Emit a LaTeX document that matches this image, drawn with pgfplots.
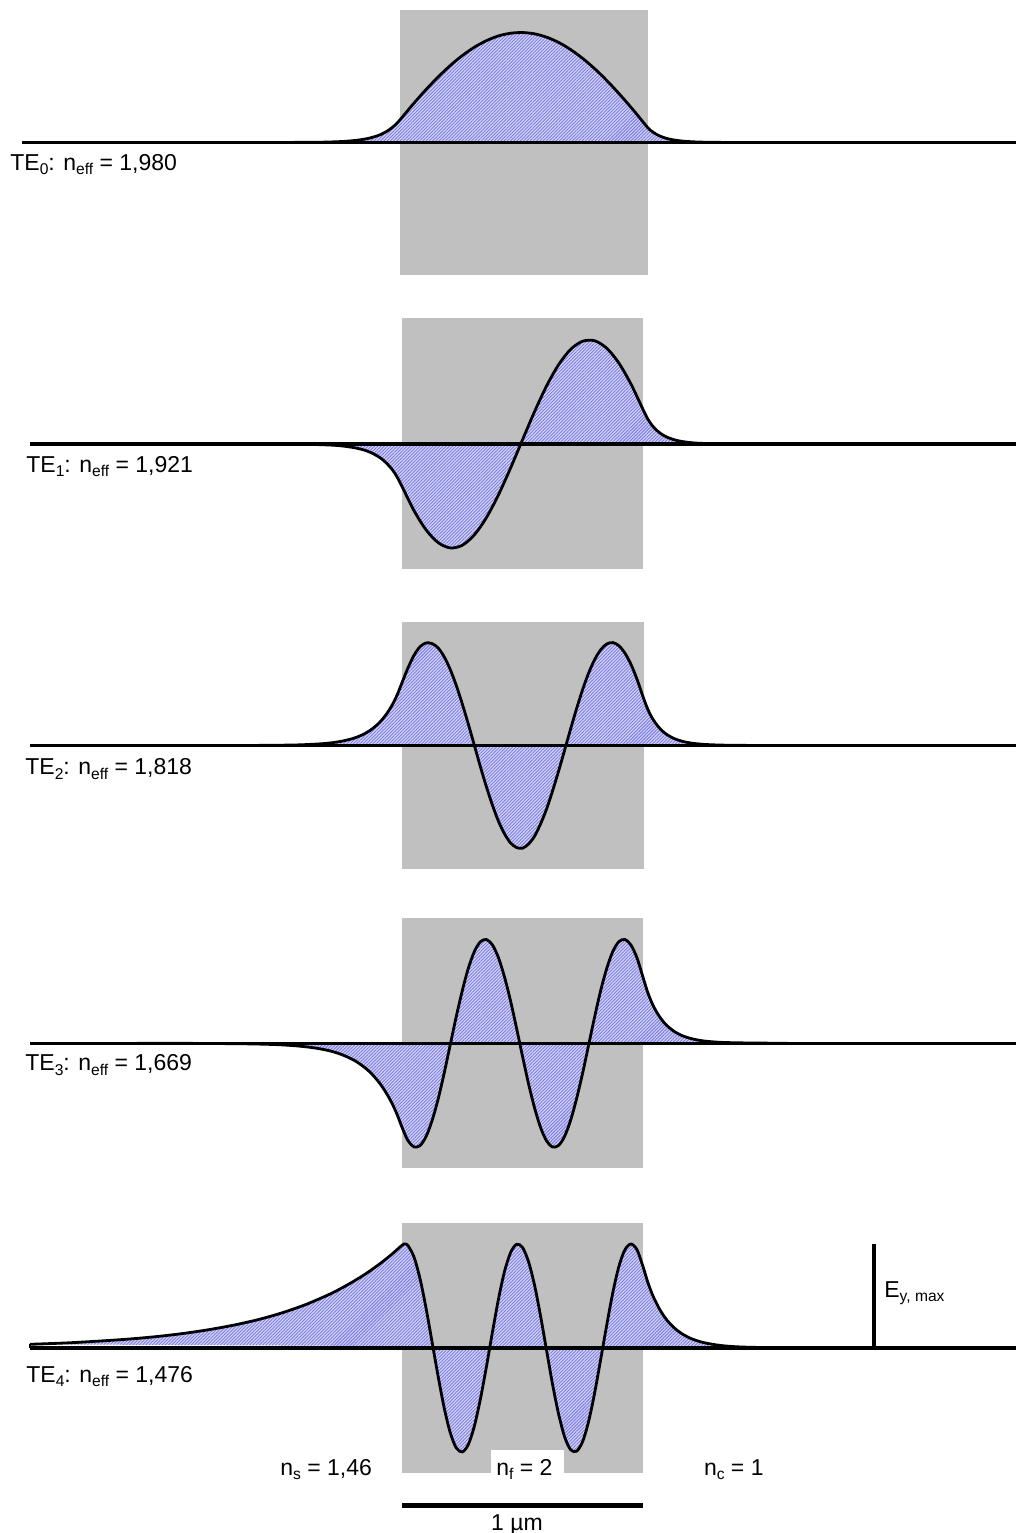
\documentclass[border=0pt]{standalone}
\usepackage{fontspec}
\setmainfont{Liberation Sans}
\usepackage{pgfplots}
\usepackage{pgfplotstable}
\pgfplotsset{compat=1.18}
\usetikzlibrary{patterns.meta}
\definecolor{coregray}{RGB}{192,192,192}
\definecolor{hatchbase}{RGB}{214,214,248}
\definecolor{hatchline}{RGB}{122,122,226}
\newcommand{\sub}[1]{\raisebox{-2.3pt}{\fontsize{7.8}{8}\selectfont #1}}
\newcommand{\lbl}{\fontsize{11.5}{13}\selectfont}

\pgfplotstableread{
x y
250 -142.5
313.2 -142.3
338 -141.7
350.4 -140.9
360.3 -139.8
367.8 -138.5
375.2 -136.5
380.2 -134.7
385.1 -132.3
390.1 -129.1
395 -125.1
400 -119.8
412.4 -105.0
424.8 -90.9
437.2 -77.9
449.6 -66.1
462 -55.8
474.4 -47.2
486.8 -40.5
499.2 -35.7
511.6 -33.1
524 -32.6
536.4 -34.2
548.8 -38.0
561.2 -43.8
573.6 -51.6
586 -61.1
598.4 -72.2
610.8 -84.7
623.2 -98.3
635.6 -112.8
648 -127.9
653 -132.1
657.9 -135.1
662.9 -137.2
667.8 -138.7
672.8 -139.8
682.7 -141.1
697.6 -142.0
722.4 -142.4
796.8 -142.5
}\tA

\pgfplotstableread{
x y
257.4 -444.0
305.6 -444.3
329.7 -445.0
341.8 -445.9
353.8 -447.6
363.4 -449.8
370.7 -452.5
377.9 -456.3
382.7 -459.7
387.5 -464.2
392.4 -469.8
397.2 -477.1
402 -486.4
414.05 -510.7
426.1 -529.9
438.15 -542.6
450.2 -547.9
462.25 -545.3
474.3 -534.9
486.35 -517.7
498.4 -494.9
510.45 -468.3
522.5 -439.8
534.55 -411.6
546.6 -385.9
558.65 -364.6
570.7 -349.3
582.75 -341.2
594.8 -340.8
606.85 -348.3
618.9 -363.1
630.95 -384.0
643 -409.4
647.8 -419.0
652.6 -426.0
657.5 -431.0
662.3 -434.6
667.1 -437.2
674.3 -439.8
681.6 -441.4
691.2 -442.7
705.7 -443.5
739.4 -444.0
}\tB

\pgfplotstableread{
x y
245.4 -745.5
293.6 -745.0
317.7 -744.0
329.7 -743.0
341.8 -741.2
353.8 -738.2
363.4 -734.3
370.7 -730.0
377.9 -724.1
382.7 -718.9
387.5 -712.6
392.4 -704.6
397.2 -694.8
402 -682.7
408.0 -667.9
414.05 -655.2
420.1 -646.6
426.1 -642.9
432.1 -643.6
438.15 -647.9
444.2 -656.8
450.2 -669.4
456.2 -685.2
462.25 -703.8
468.3 -724.0
474.3 -745.1
480.3 -766.4
486.35 -786.6
492.4 -805.0
498.4 -821.1
504.4 -833.6
510.45 -842.8
516.5 -847.5
522.5 -848.2
528.5 -844.1
534.55 -836.2
540.6 -823.8
546.6 -808.9
552.6 -790.8
558.65 -770.9
564.7 -749.8
570.7 -728.6
576.7 -708.2
582.75 -689.2
588.8 -672.6
594.8 -659.3
600.8 -649.6
606.85 -643.9
612.9 -642.6
618.9 -645.7
624.9 -653.1
630.95 -664.3
637.0 -679.2
643 -696.6
647.8 -709.3
652.6 -718.7
657.5 -725.7
662.3 -730.9
667.1 -734.7
674.3 -738.6
681.6 -741.1
691.2 -743.1
705.7 -744.5
727.4 -745.2
763.5 -745.5
}\tC

\pgfplotstableread{
x y
136.9 -1043.3
197.2 -1043.4
245.4 -1043.8
276.7 -1044.6
298.4 -1046.0
315.2 -1048.0
329.7 -1050.8
341.8 -1054.6
353.8 -1060.1
363.4 -1066.5
370.7 -1072.8
377.9 -1080.9
382.7 -1087.4
387.5 -1095.1
392.4 -1104.1
397.2 -1114.7
402 -1127.2
408.0 -1140.7
414.1 -1146.9
420.1 -1145.5
426.1 -1136.4
432.1 -1120.5
438.2 -1098.8
444.2 -1073.0
450.2 -1044.9
456.2 -1016.8
462.3 -990.6
468.3 -968.3
474.3 -951.7
480.3 -941.8
486.4 -939.5
492.4 -944.8
498.4 -957.5
504.4 -976.6
510.5 -1000.7
516.5 -1027.9
522.5 -1056.2
528.5 -1083.6
534.6 -1108.0
540.6 -1127.6
546.6 -1140.9
552.6 -1147.0
558.7 -1145.3
564.7 -1136.1
570.7 -1120.0
576.7 -1098.2
582.8 -1072.3
588.8 -1044.2
594.8 -1016.1
600.8 -990.0
606.9 -967.9
612.9 -951.3
618.9 -941.6
624.9 -939.5
631.0 -945.1
637.0 -957.9
643.0 -977.2
647.8 -992.6
652.6 -1004.4
657.5 -1013.5
662.3 -1020.4
667.1 -1025.7
674.3 -1031.5
681.6 -1035.4
691.2 -1038.6
703.3 -1040.9
720.1 -1042.3
744.2 -1042.9
787.6 -1043.3
}\tD

\pgfplotstableread{
x y
30 -1344.3
64.6 -1343.0
88.7 -1341.7
112.8 -1340.2
136.9 -1338.4
161 -1336.1
185.1 -1333.2
209.2 -1329.6
233.3 -1325.2
257.4 -1319.8
281.5 -1313.0
305.6 -1304.6
329.7 -1294.2
341.75 -1288.0
353.8 -1281.2
365.85 -1273.7
377.9 -1265.2
390 -1255.8
402 -1245.3
404.9 -1244.0
408.0 -1245.6
414.1 -1257.3
420.1 -1279.0
426.1 -1308.4
432.1 -1342.2
438.2 -1376.7
444.2 -1407.9
450.2 -1432.5
456.2 -1447.8
462.3 -1451.9
468.3 -1444.5
474.3 -1426.3
480.3 -1399.5
486.4 -1366.9
492.4 -1332.3
498.4 -1299.4
504.4 -1271.9
510.5 -1252.8
516.5 -1244.3
522.5 -1247.4
528.5 -1261.6
534.6 -1285.4
540.6 -1316.2
546.6 -1350.5
552.6 -1384.6
558.7 -1414.5
564.7 -1437.1
570.7 -1449.8
576.7 -1451.1
582.8 -1441.1
588.8 -1420.6
594.8 -1392.1
600.8 -1358.7
606.9 -1324.1
612.9 -1292.2
618.9 -1266.4
624.9 -1249.8
631.0 -1244.0
637.0 -1249.8
643.0 -1266.5
647.8 -1282.3
652.6 -1295.0
657.5 -1305.3
662.3 -1313.6
667.1 -1320.3
674.3 -1327.9
681.6 -1333.5
691.2 -1338.6
703.3 -1342.5
720.1 -1345.4
739.4 -1346.9
768.3 -1347.6
811.7 -1348.0
}\tE

\pgfplotsset{
  corebox/.style={draw=none, fill=coregray},
  fieldbase/.style={smooth, draw=none, fill=hatchbase},
  fieldhatch/.style={smooth, draw=none, pattern={Lines[angle=45,distance=1.15pt,line width=0.45pt]}, pattern color=hatchline},
  fieldline/.style={smooth, black, line width=1.4pt},
  baseline/.style={black, line width=1.6pt},
}

\begin{document}
\begin{tikzpicture}
\begin{axis}[
  anchor=origin, at={(0pt,0pt)},
  x=0.5pt, y=0.5pt,
  xmin=0, xmax=1016, ymin=-1533, ymax=0,
  hide axis, clip=false,
]
% core regions
\addplot[corebox] coordinates {(400,-10) (648,-10) (648,-275) (400,-275)} -- cycle;
\addplot[corebox] coordinates {(402,-318) (643,-318) (643,-569) (402,-569)} -- cycle;
\addplot[corebox] coordinates {(402,-622) (644,-622) (644,-869) (402,-869)} -- cycle;
\addplot[corebox] coordinates {(402,-918) (643,-918) (643,-1168) (402,-1168)} -- cycle;
\addplot[corebox] coordinates {(402,-1223) (643,-1223) (643,-1473) (402,-1473)} -- cycle;

% field fills
\addplot[fieldbase] table {\tA} -- cycle;
\addplot[fieldhatch] table {\tA} -- cycle;
\addplot[fieldbase] table {\tB} -- cycle;
\addplot[fieldhatch] table {\tB} -- cycle;
\addplot[fieldbase] table {\tC} -- cycle;
\addplot[fieldhatch] table {\tC} -- cycle;
\addplot[fieldbase] table {\tD} -- cycle;
\addplot[fieldhatch] table {\tD} -- cycle;
\addplot[fieldbase] table {\tE} -- cycle;
\addplot[fieldhatch] table {\tE} -- cycle;

% baselines
\addplot[baseline] coordinates {(22,-142.5) (1016,-142.5)};
\addplot[baseline] coordinates {(30,-444) (1016,-444)};
\addplot[baseline] coordinates {(30,-745.5) (1016,-745.5)};
\addplot[baseline] coordinates {(30,-1043.3) (1016,-1043.3)};
\addplot[baseline] coordinates {(30,-1348) (1016,-1348)};

% field curves
\addplot[fieldline] table {\tA};
\addplot[fieldline] table {\tB};
\addplot[fieldline] table {\tC};
\addplot[fieldline] table {\tD};
\addplot[fieldline] table {\tE};
\addplot[black, line width=1.2pt] coordinates {(30,-1344.3) (30,-1348)};

% E_y,max bar and scale bar
\addplot[black, line width=2pt] coordinates {(874,-1244) (874,-1349)};
\addplot[black, line width=2.3pt] coordinates {(402,-1505.5) (643,-1505.5)};

% white box behind n_f
\addplot[draw=none, fill=white] coordinates {(491,-1450) (563.6,-1450) (563.6,-1476) (491,-1476)} -- cycle;

% labels
\node[anchor=base west, font=\lbl, inner sep=0pt] at (axis cs:10,-170) {TE\sub{0}: n\sub{eff} = 1,980};
\node[anchor=base west, font=\lbl, inner sep=0pt] at (axis cs:26,-472) {TE\sub{1}: n\sub{eff} = 1,921};
\node[anchor=base west, font=\lbl, inner sep=0pt] at (axis cs:25,-774.5) {TE\sub{2}: n\sub{eff} = 1,818};
\node[anchor=base west, font=\lbl, inner sep=0pt] at (axis cs:25,-1070.5) {TE\sub{3}: n\sub{eff} = 1,669};
\node[anchor=base west, font=\lbl, inner sep=0pt] at (axis cs:26,-1382) {TE\sub{4}: n\sub{eff} = 1,476};
\node[anchor=base west, font=\lbl, inner sep=0pt] at (axis cs:884,-1297) {E\sub{y, max}};
\node[anchor=base west, font=\lbl, inner sep=0pt] at (axis cs:280,-1475) {n\sub{s} = 1,46};
\node[anchor=base west, font=\lbl, inner sep=0pt] at (axis cs:496,-1475) {n\sub{f} = 2};
\node[anchor=base west, font=\lbl, inner sep=0pt] at (axis cs:703.6,-1475) {n\sub{c} = 1};
\node[anchor=base, font=\lbl, inner sep=0pt] at (axis cs:517,-1530) {1 µm};
\end{axis}
\pgfresetboundingbox
\path[use as bounding box] (0pt,0pt) rectangle (508pt,-766.5pt);
\end{tikzpicture}
\end{document}
